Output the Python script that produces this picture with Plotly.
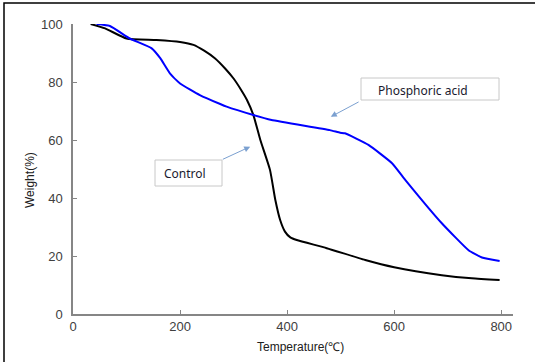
import plotly.graph_objects as go

# Control (black)
control_T = [33, 60, 100, 156, 200, 225, 245, 265, 285, 300, 315, 325, 337, 350, 368, 378, 387, 396, 406, 418, 474, 546, 600, 689, 745, 797]
control_W = [100, 98.5, 95, 94.5, 93.8, 92.8, 90.8, 88.2, 84.5, 81.2, 77.0, 73.8, 68.6, 60, 49.7, 39.3, 32.4, 28.4, 26.4, 25.5, 22.7, 18.6, 16.1, 13.4, 12.3, 11.7]

# Phosphoric acid (blue)
phos_T = [44, 69, 106, 147, 163, 181, 200, 237, 275, 287, 337, 371, 480, 499, 508, 552, 596, 621, 689, 739, 764, 797]
phos_W = [100, 99.3, 95, 91.6, 88.2, 83, 79.5, 75.5, 72.4, 71.5, 68.6, 66.9, 63.4, 62.5, 62.3, 58.3, 52, 46.2, 31.3, 22, 19.5, 18.3]

x_ticks = [0, 200, 400, 600, 800]
y_ticks = [0, 20, 40, 60, 80, 100]

W, H = 535, 362
L, R, T, B = 73, 22, 24, 48
pw, ph = W - L - R, H - T - B

def px(x):
    return (x - L) / pw

def py(y):
    return (H - B - y) / ph

fig = go.Figure()
fig.add_trace(go.Scatter(x=control_T, y=control_W, mode="lines",
                         line=dict(color="#000000", width=2, shape="spline", smoothing=0.5),
                         name="Control"))
fig.add_trace(go.Scatter(x=phos_T, y=phos_W, mode="lines",
                         line=dict(color="#0000FF", width=2, shape="spline", smoothing=0.4),
                         name="Phosphoric acid"))

axis_common = dict(showgrid=False, zeroline=False, showline=True, linecolor="#868686",
                   linewidth=1.5, ticks="inside", ticklen=4, tickcolor="#868686", tickwidth=1,
                   tickfont=dict(family="Liberation Sans, Arial", size=13, color="#404040"))

fig.update_xaxes(range=[0, 822], tickvals=x_ticks, ticktext=[str(v) for v in x_ticks], **axis_common)
fig.update_yaxes(range=[0, 100], tickvals=y_ticks, ticktext=[str(v) for v in y_ticks],
                 ticklabelstandoff=6, **axis_common)

label_font = dict(family="Noto Sans, Liberation Sans", size=12, color="#1a1a2e")
title_font = dict(family="Liberation Sans, Arial", size=12, color="#202020")

annots = [
    dict(x=px(300), y=py(347), xref="paper", yref="paper", xanchor="center", yanchor="middle",
         text="Temperature(\u2103)", showarrow=False, font=title_font),
    dict(x=px(30), y=py(180), xref="paper", yref="paper", xanchor="center", yanchor="middle",
         text="Weight(%)", showarrow=False, textangle=-90, font=title_font),
    # Control label with arrow
    dict(x=331, y=57.7, ax=277, ay=53.1, xref="x", yref="y", axref="x", ayref="y", text="",
         showarrow=True, arrowhead=2, arrowsize=1.2, arrowwidth=1, arrowcolor="#7BA0D0"),
    dict(x=px(185), y=py(173), xref="paper", yref="paper", xanchor="center", yanchor="middle",
         text="Control", showarrow=False, font=label_font),
    # Phosphoric acid label with arrow
    dict(x=481.6, y=68, ax=536.4, ay=73.4, xref="x", yref="y", axref="x", ayref="y", text="",
         showarrow=True, arrowhead=2, arrowsize=1.2, arrowwidth=1, arrowcolor="#7BA0D0"),
    dict(x=px(376), y=py(90), xref="paper", yref="paper", xanchor="left", yanchor="middle",
         text="Phosphoric acid", showarrow=False, font=label_font),
]

shapes = [
    dict(type="rect", xref="paper", yref="paper", x0=px(4), x1=px(545), y0=py(3), y1=py(372),
         line=dict(color="#000000", width=1.5), layer="below"),
    dict(type="rect", xref="paper", yref="paper", x0=px(155), x1=px(222), y0=py(160), y1=py(186),
         line=dict(color="#C8C8C8", width=1), fillcolor="white"),
    dict(type="rect", xref="paper", yref="paper", x0=px(361), x1=px(499), y0=py(78), y1=py(100),
         line=dict(color="#C8C8C8", width=1), fillcolor="white"),
]

fig.update_layout(width=W, height=H, margin=dict(l=L, r=R, t=T, b=B),
                  paper_bgcolor="white", plot_bgcolor="white", showlegend=False,
                  annotations=annots, shapes=shapes)

fig.write_html("out.html", config={"displayModeBar": False},
               post_script="document.body.style.margin='0';document.body.style.overflow='hidden';")
